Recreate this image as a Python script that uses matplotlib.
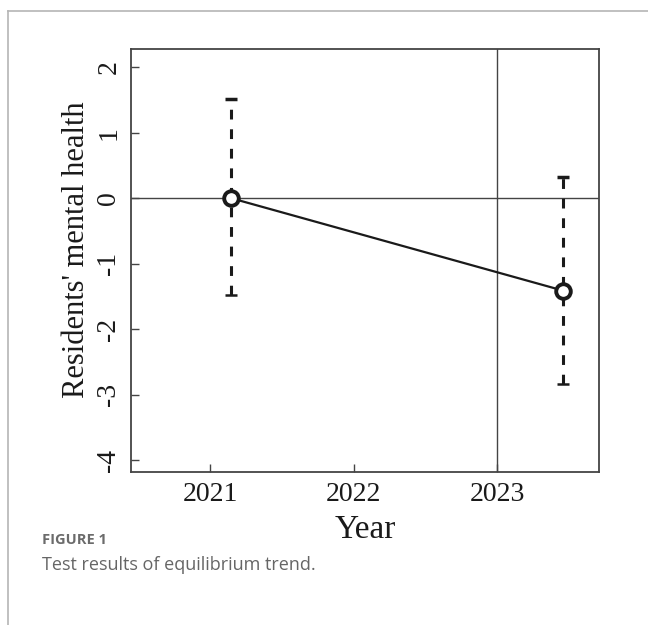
import matplotlib
matplotlib.use("Agg")
import matplotlib.pyplot as plt
from matplotlib.lines import Line2D

# data
years = [2021.15, 2023.46]
means = [0.0, -1.41]
upper = [1.51, 0.33]
lower = [-1.47, -2.83]
xticks = [2021, 2022, 2023]
yticks = [2, 1, 0, -1, -2, -3, -4]

serif = ["Liberation Serif", "DejaVu Serif"]
ink = "#1a1a1a"
frame = "#444444"

fig = plt.figure(figsize=(6.48, 6.25), dpi=100)

# the outer gray panel frame (top and left edge)
fig.add_artist(Line2D([8 / 648, 8 / 648], [0, 1 - 11 / 625], color="#b5b5b5", lw=1.2))
fig.add_artist(Line2D([8 / 648, 1], [1 - 11 / 625, 1 - 11 / 625], color="#b5b5b5", lw=1.2))

ax = fig.add_axes([131 / 648, 1 - 472 / 625, 468 / 648, 423 / 625])

# reference lines
ax.axhline(0, color=frame, lw=1.0, zorder=1)
ax.axvline(2023, color=frame, lw=1.0, zorder=1)

# confidence intervals, dashed with small caps
for x, lo, hi in zip(years, lower, upper):
    ax.plot([x, x], [lo, hi], color=ink, lw=2.2, dashes=(3.2, 3.2), zorder=2)
    ax.plot([x], [hi], marker="_", ms=8, mew=2.5, color=ink, zorder=3)
    ax.plot([x], [lo], marker="_", ms=8, mew=1.8, color=ink, zorder=3)

# trend line and open points
ax.plot(years, means, color=ink, lw=1.6, zorder=3)
ax.plot(years, means, "o", ms=10.5, mfc="white", mec=ink, mew=2.8, zorder=4)

ax.set_xlim(2020.45, 2023.71)
ax.set_ylim(-4.18, 2.28)
ax.set_xticks(xticks)
ax.set_xticklabels([str(t) for t in xticks], family=serif, fontsize=20, color=ink)
ax.set_yticks(yticks)
ax.set_yticklabels([str(t) for t in yticks], family=serif, fontsize=20, color=ink,
                   rotation=90, va="center")
ax.tick_params(direction="in", length=6, width=1.0, color=frame, pad=7)

for s in ax.spines.values():
    s.set_color(frame)
    s.set_linewidth(1.3)

ax.set_xlabel("Year", family=serif, fontsize=24, color=ink)
ax.xaxis.set_label_coords(0.5, -0.1)
ax.set_ylabel("Residents' mental health", family=serif, fontsize=22, color=ink)
ax.yaxis.set_label_coords(-0.085, 0.525)

# caption
cap = ["Open Sans", "DejaVu Sans"]
fig.text(42 / 648, 1 - 540 / 625, "FIGURE 1", family=cap, fontsize=10.5,
         fontweight="bold", color="#6b6b6b", va="center")
fig.text(42 / 648, 1 - 565 / 625, "Test results of equilibrium trend.", family=cap,
         fontsize=13, color="#666666", va="center")

fig.savefig("out.png", dpi=100)
